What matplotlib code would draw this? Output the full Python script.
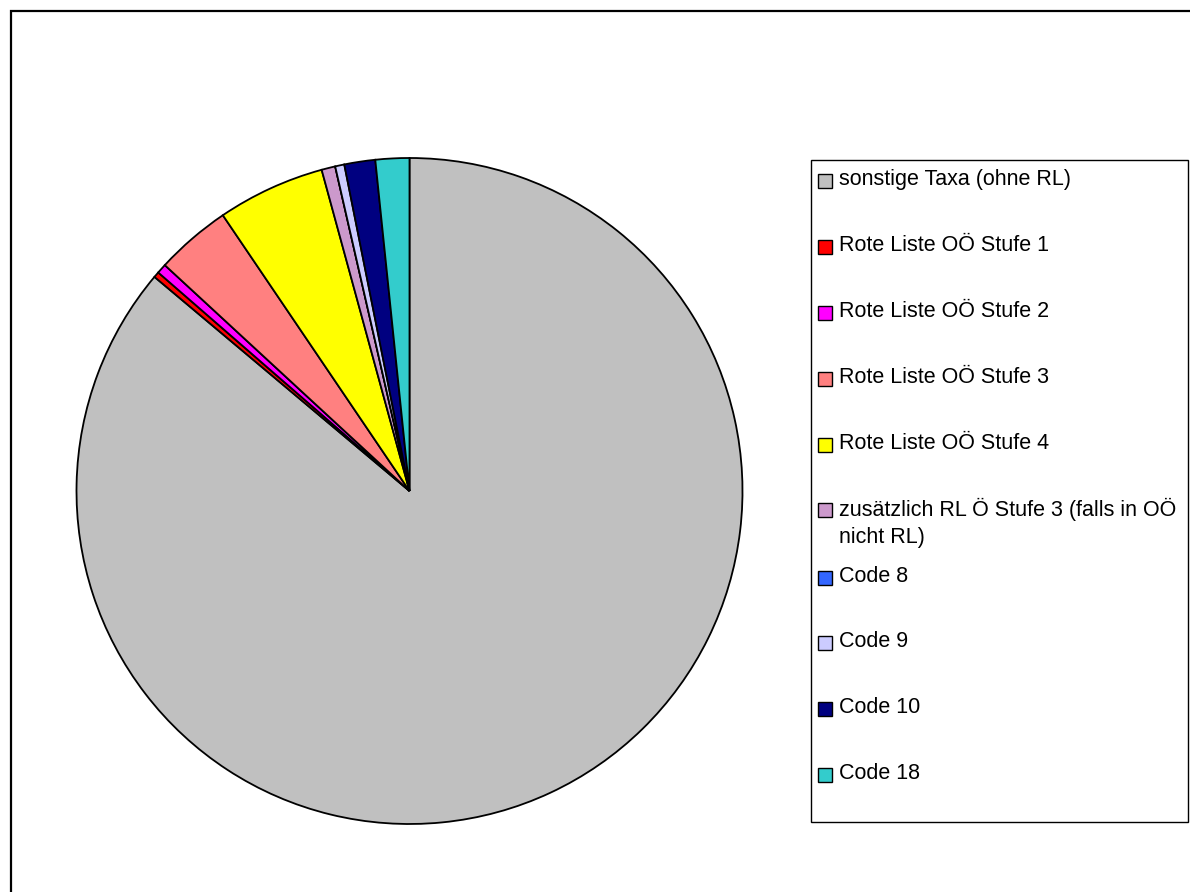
import matplotlib.pyplot as plt
from matplotlib.patches import Rectangle

plt.rcParams['font.family'] = ['Liberation Sans', 'DejaVu Sans']

labels = ["sonstige Taxa (ohne RL)", "Rote Liste OÖ Stufe 1", "Rote Liste OÖ Stufe 2",
          "Rote Liste OÖ Stufe 3", "Rote Liste OÖ Stufe 4",
          "zusätzlich RL Ö Stufe 3 (falls in OÖ\nnicht RL)",
          "Code 8", "Code 9", "Code 10", "Code 18"]
values = [310.1, 1.0, 1.7, 13.2, 18.8, 2.4, 0.0, 1.6, 5.4, 5.9]
colors = ["#C0C0C0", "#FF0000", "#FF00FF", "#FF8080", "#FFFF00",
          "#CC99CC", "#3366FF", "#CCCCFF", "#000080", "#33CCCC"]

W, H = 1190, 892
fig = plt.figure(figsize=(W / 100, H / 100), dpi=100)

# outer chart border (cut off at right and bottom)
fig.patches.append(Rectangle((10.5 / W, -0.05), 1.2, 1 - 10.5 / H + 0.05,
                             transform=fig.transFigure, fill=False,
                             edgecolor="black", linewidth=1.6))

# pie
cx, cy, r = 409.5, 491, 333
ax = fig.add_axes([(cx - r) / W, (H - cy - r) / H, 2 * r / W, 2 * r / H])
ax.pie(values, colors=colors, startangle=90, counterclock=False, radius=1,
       wedgeprops=dict(edgecolor="black", linewidth=1.3))
ax.set_xlim(-1, 1)
ax.set_ylim(-1, 1)
ax.set_aspect("equal")
ax.axis("off")
for p in ax.patches:
    p.set_clip_on(False)

# legend box
lx0, ly0, lx1, ly1 = 810.5, 160, 1188, 822
fig.patches.append(Rectangle((lx0 / W, 1 - ly1 / H), (lx1 - lx0) / W, (ly1 - ly0) / H,
                             transform=fig.transFigure, fill=False,
                             edgecolor="black", linewidth=1.0))
ys = [180, 246, 312, 378, 444, 509, 577, 642, 708, 774]
for lab, col, y in zip(labels, colors, ys):
    fig.patches.append(Rectangle((818 / W, 1 - (y + 8) / H), 14 / W, 14 / H,
                                 transform=fig.transFigure, facecolor=col,
                                 edgecolor="black", linewidth=1.0))
    fig.text(839 / W, 1 - (y - 11) / H, lab, fontsize=15.5, va="top", ha="left",
             linespacing=1.35)

fig.savefig("out.png", dpi=100, facecolor="white")
